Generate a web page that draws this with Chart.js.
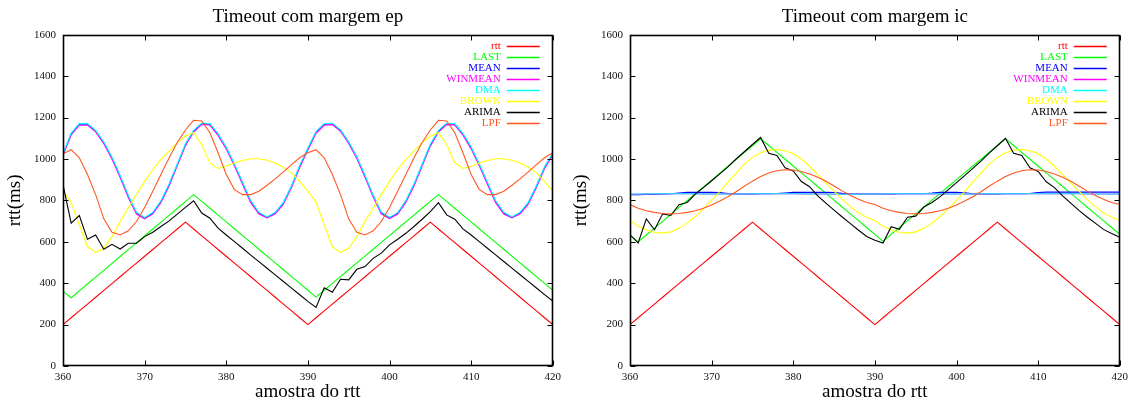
<!DOCTYPE html>
<html>
<head>
<meta charset="utf-8">
<script src="https://cdn.jsdelivr.net/npm/chart.js@4.4.1/dist/chart.umd.min.js"></script>
<style>
  html, body { margin: 0; padding: 0; background: #ffffff; }
  #wrap { position: relative; width: 1133px; height: 403px; overflow: hidden; }
  .box { position: absolute; top: 0; height: 403px; }
  #boxEp { left: 0; width: 566px; }
  #boxIc { left: 566px; width: 567px; }
</style>
</head>
<body>
<div id="wrap">
  <div class="box" id="boxEp"><canvas id="chartEp"></canvas></div>
  <div class="box" id="boxIc"><canvas id="chartIc"></canvas></div>
</div>
<script>
// Sample numbers (x axis)
const samples = [
  360,361,362,363,364,365,366,367,368,369,
  370,371,372,373,374,375,376,377,378,379,
  380,381,382,383,384,385,386,387,388,389,
  390,391,392,393,394,395,396,397,398,399,
  400,401,402,403,404,405,406,407,408,409,
  410,411,412,413,414,415,416,417,418,419,
  420
];

const seriesNames  = ['rtt', 'LAST', 'MEAN', 'WINMEAN', 'DMA', 'BROWN', 'ARIMA', 'LPF'];
const seriesColors = ['#ff0000', '#00ff00', '#0000ff', '#ff00ff', '#00ffff', '#ffff00', '#000000', '#ff5722'];

// Measured round-trip time (same in both panels)
const rtt = [
  200,233,266,299,332,365,398,431,464,497,
  530,563,596,629,662,695,662,629,596,563,
  530,497,464,431,398,365,332,299,266,233,
  200,233,266,299,332,365,398,431,464,497,
  530,563,596,629,662,695,662,629,596,563,
  530,497,464,431,398,365,332,299,266,233,
  200
];

// ---- Panel "ep" ----
const epLast = [
  362,330,363,396,429,462,496,529,562,595,
  628,662,695,728,761,794,828,795,762,729,
  696,663,630,597,564,531,498,465,432,399,
  366,333,366,399,432,465,498,531,564,597,
  630,663,696,729,762,795,828,795,762,729,
  696,663,630,597,564,531,498,465,432,399,
  366
];
const epMean = [
  1022,1122,1168,1168,1135,1079,1006,917,820,739,
  714,739,795,876,973,1070,1135,1171,1168,1119,
  1054,973,884,795,739,718,739,787,868,965,
  1050,1130,1168,1170,1138,1080,1008,918,822,740,
  715,738,795,876,972,1068,1135,1170,1168,1120,
  1055,973,884,795,739,718,739,787,868,960,
  1025
];
const epWinMean = [
  1017,1116,1163,1164,1131,1074,1000,911,814,734,
  711,735,790,870,967,1064,1130,1167,1164,1114,
  1048,967,878,789,734,715,735,782,862,959,
  1044,1124,1163,1166,1134,1075,1002,912,816,735,
  712,734,790,870,966,1062,1130,1166,1164,1115,
  1049,967,878,789,734,715,735,782,862,954,
  1019
];
const epDma = [
  1025,1125,1171,1171,1138,1082,1009,920,823,742,
  717,742,798,879,976,1073,1138,1174,1171,1122,
  1057,976,887,798,742,721,742,790,871,968,
  1053,1133,1171,1173,1141,1083,1011,921,825,743,
  718,741,798,879,975,1071,1138,1173,1171,1123,
  1058,976,887,798,742,721,742,790,871,963,
  1028
];
const epBrown = [
  844,792,682,577,549,569,625,698,763,828,
  892,949,998,1038,1079,1111,1127,1070,981,954,
  965,981,993,1001,1001,994,981,960,933,892,
  844,792,682,577,549,569,625,698,763,828,
  892,949,998,1038,1079,1111,1127,1070,981,954,
  965,981,993,1001,1001,994,981,960,933,892,
  844
];
const epArima = [
  876,690,727,612,633,564,588,565,593,593,
  625,646,674,701,734,766,798,739,714,666,
  633,601,569,536,504,472,440,408,376,344,
  312,283,378,356,419,416,467,480,520,545,
  585,612,641,674,709,746,789,730,709,662,
  633,601,569,537,505,473,441,409,377,345,
  314
];
const epLpf = [
  1025,1045,1006,925,828,711,646,633,653,698,
  766,844,925,1006,1080,1140,1187,1184,1127,1030,
  925,852,828,828,844,873,904,938,973,1006,
  1030,1045,1006,925,828,711,646,633,653,698,
  766,844,925,1006,1080,1140,1187,1184,1127,1030,
  925,852,828,828,844,873,904,938,973,1006,
  1030
];

// ---- Panel "ic" ----
const icLast = [
  632,600,633,666,699,732,766,799,832,865,
  898,932,965,998,1031,1064,1098,1065,1032,999,
  966,933,900,867,834,801,768,735,702,669,
  636,603,636,669,702,735,768,801,834,867,
  900,933,966,999,1032,1065,1098,1065,1032,999,
  966,933,900,867,834,801,768,735,702,669,
  636
];
const icMean = [
  828,828,829,830,831,832,836,839,839,839,
  839,838,833,831,831,831,832,832,833,836,
  839,839,839,839,839,838,834,831,831,831,
  831,831,831,832,832,832,832,835,839,839,
  839,837,832,831,831,831,832,832,832,833,
  838,840,840,840,840,840,840,840,840,840,
  840
];
const icWinMean = [
  830,830,831,831,831,832,832,832,832,831,
  831,831,831,831,831,831,832,832,832,832,
  832,831,831,831,831,830,830,830,830,831,
  831,831,831,832,832,832,832,831,831,831,
  831,831,831,831,832,832,832,832,832,832,
  832,832,832,832,832,832,831,831,831,831,
  831
];
const icDma = [
  831,831,831,832,832,832,832,832,832,831,
  831,831,831,831,831,832,832,832,832,832,
  832,832,831,831,831,831,830,830,830,831,
  831,831,832,832,832,832,832,832,831,831,
  831,831,831,832,832,832,832,832,832,832,
  832,832,832,832,832,832,832,831,831,831,
  831
];
const icBrown = [
  705,675,657,645,642,648,665,690,722,760,
  800,843,888,932,975,1008,1030,1043,1046,1040,
  1025,1000,965,925,885,845,805,770,740,718,
  703,675,657,645,642,648,665,690,722,760,
  800,843,888,932,975,1008,1030,1043,1046,1040,
  1025,1000,965,925,885,845,805,770,740,718,
  703
];
const icArima = [
  634,594,711,658,735,727,779,790,830,862,
  895,928,962,1000,1035,1070,1104,1028,1017,958,
  942,891,866,822,787,753,720,688,656,626,
  608,594,673,660,719,724,768,790,818,852,
  886,920,955,990,1028,1064,1100,1028,1017,958,
  940,890,862,822,787,752,720,690,660,640,
  622
];
const icLpf = [
  780,762,750,742,737,735,737,742,750,762,
  778,797,818,842,868,893,915,932,943,948,
  947,940,928,912,892,870,846,824,805,790,
  780,762,750,742,737,735,737,742,750,762,
  778,797,818,842,868,893,915,932,943,948,
  947,940,928,912,892,870,846,824,805,790,
  780
];

const SERIF = "'Liberation Serif', 'Times New Roman', serif";

// Box around the plot with inward tick marks on all four sides, plus the key
const framePlugin = {
  id: 'gnuFrame',
  afterDraw(chart) {
    const { ctx, chartArea: a, scales: { x, y } } = chart;
    const L = Math.round(a.left) + 0.5, R = Math.round(a.right) - 0.5;
    const T = Math.round(a.top) + 0.5, B = Math.round(a.bottom) - 0.5;
    ctx.save();
    ctx.strokeStyle = '#000000';
    ctx.lineWidth = 1;
    ctx.beginPath();
    x.ticks.forEach(t => {
      const px = Math.round(x.getPixelForValue(t.value)) + 0.5;
      ctx.moveTo(px, B); ctx.lineTo(px, B - 5);
      ctx.moveTo(px, T); ctx.lineTo(px, T + 5);
    });
    y.ticks.forEach(t => {
      const py = Math.round(y.getPixelForValue(t.value)) + 0.5;
      ctx.moveTo(L, py); ctx.lineTo(L + 5, py);
      ctx.moveTo(R, py); ctx.lineTo(R - 5, py);
    });
    ctx.stroke();
    ctx.lineWidth = 1.6;
    ctx.strokeRect(L, T, R - L, B - T);

    // key, top right inside the plot
    ctx.font = '11px ' + SERIF;
    ctx.textAlign = 'right';
    ctx.textBaseline = 'middle';
    ctx.lineWidth = 1.4;
    seriesNames.forEach((name, i) => {
      const color = seriesColors[i];
      const yy = Math.round(a.top + 11 + 11 * i);
      ctx.fillStyle = color;
      ctx.fillText(name, a.right - 52, yy);
      ctx.strokeStyle = color;
      ctx.beginPath();
      ctx.moveTo(a.right - 46, yy + 0.5);
      ctx.lineTo(a.right - 13, yy + 0.5);
      ctx.stroke();
    });
    ctx.restore();
  }
};

function makeChart(canvasId, titleText, values, yAxisWidth) {
  const datasets = values.map((vals, i) => ({
    label: seriesNames[i],
    data: samples.map((s, j) => ({ x: s, y: vals[j] })),
    borderColor: seriesColors[i],
    backgroundColor: seriesColors[i],
    borderWidth: 1.1,
    pointRadius: 0,
    tension: 0,
    fill: false,
    order: values.length - i
  }));
  return new Chart(document.getElementById(canvasId), {
    type: 'line',
    data: { datasets },
    plugins: [framePlugin],
    options: {
      responsive: true,
      maintainAspectRatio: false,
      animation: false,
      devicePixelRatio: 1,
      layout: { padding: { left: 0, right: 11, top: 0, bottom: 0 } },
      plugins: {
        legend: { display: false },
        tooltip: { enabled: false },
        title: {
          display: true,
          text: titleText,
          fullSize: false,
          color: '#000',
          font: { family: SERIF, size: 19, weight: 'normal' },
          padding: { top: 6, bottom: 6 }
        }
      },
      scales: {
        x: {
          type: 'linear',
          min: 360, max: 420,
          grid: { display: false, drawTicks: false },
          border: { display: false },
          ticks: { stepSize: 10, padding: 5, color: '#111', font: { family: SERIF, size: 11 },
                   callback: v => String(v) },
          title: { display: true, text: 'amostra do rtt', color: '#000',
                   font: { family: SERIF, size: 19 }, padding: { top: 0, bottom: 0 } },
          afterFit: s => { s.height = 37; }
        },
        y: {
          min: 0, max: 1600,
          grid: { display: false, drawTicks: false },
          border: { display: false },
          ticks: { stepSize: 200, padding: 7, color: '#111', font: { family: SERIF, size: 11 },
                   callback: v => String(v) },
          title: { display: true, text: 'rtt(ms)', color: '#000',
                   font: { family: SERIF, size: 19 }, padding: { top: 4, bottom: 0 } },
          afterFit: s => { s.width = yAxisWidth; }
        }
      }
    }
  });
}

makeChart('chartEp', 'Timeout com margem ep',
  [rtt, epLast, epMean, epWinMean, epDma, epBrown, epArima, epLpf], 63);
makeChart('chartIc', 'Timeout com margem ic',
  [rtt, icLast, icMean, icWinMean, icDma, icBrown, icArima, icLpf], 64);
</script>
</body>
</html>
